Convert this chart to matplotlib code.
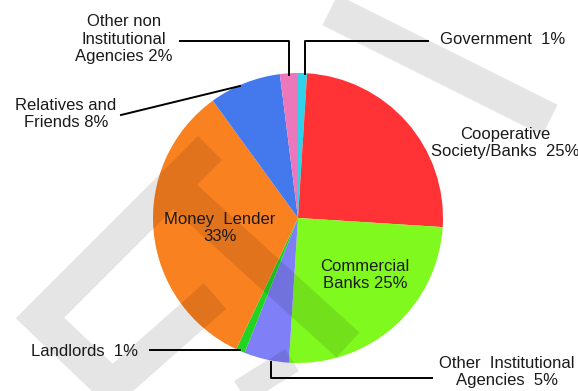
import matplotlib
matplotlib.use("Agg")
import matplotlib.pyplot as plt

plt.rcParams['font.family'] = ['Liberation Sans', 'DejaVu Sans']

W, H = 578, 391

sources = ["Government", "Cooperative Society/Banks", "Commercial Banks",
           "Other Institutional Agencies", "Landlords", "Money Lender",
           "Relatives and Friends", "Other non Institutional Agencies"]
shares = [1, 25, 25, 5, 1, 33, 8, 2]
colors = ['#2ed3ea', '#ff3236', '#80fa1e', '#7f7ff8', '#20d420',
          '#fa8120', '#4479ee', '#ec78bb']

fig = plt.figure(figsize=(W / 100, H / 100), dpi=100)
ax = fig.add_axes([0, 0, 1, 1])

cx, cy, r = 298, 218, 145
ax.pie(shares, colors=colors, startangle=90, counterclock=False,
       center=(cx, H - cy), radius=r, wedgeprops=dict(linewidth=0))
ax.set_xlim(0, W)
ax.set_ylim(0, H)
ax.set_aspect('equal')
ax.axis('off')


def py(y):
    return H - y


# faint watermark bands (one stroke each width, so overlaps don't double up)
def bands(groups, w):
    xs, ys = [], []
    for pts in groups:
        xs += [p[0] for p in pts] + [float('nan')]
        ys += [py(p[1]) for p in pts] + [float('nan')]
    ax.plot(xs, ys, color='black', alpha=0.1, lw=w * 0.72,
            solid_joinstyle='miter', solid_capstyle='butt', zorder=5)


bands([[(330, 10), (550, 120)],
       [(210, 148), (40, 318), (128, 402)],
       [(95, 402), (215, 296)],
       [(172, 185), (348, 345)]], 34)
bands([[(225, 402), (292, 360)]], 26)

tc = '#1a1a1a'
fs = 12
lk = dict(color='black', lw=1.4, zorder=6)

# labels
ax.text(440, py(40), "Government  1%", fontsize=fs, color=tc, va='center', zorder=7)
ax.plot([428, 305, 305], [py(41), py(41), py(74)], **lk)

ax.text(124, py(39), "Other non\nInstitutional\nAgencies 2%", fontsize=fs, color=tc,
        ha='center', va='center', linespacing=1.25, zorder=7)
ax.plot([180, 289, 289], [py(41), py(41), py(75)], **lk)

ax.text(66, py(114), "Relatives and\nFriends 8%", fontsize=fs, color=tc,
        ha='center', va='center', linespacing=1.1, zorder=7)
ax.plot([121, 240], [py(115), py(86)], **lk)

ax.text(505, py(143), "Cooperative\nSociety/Banks  25%", fontsize=fs, color=tc,
        ha='center', va='center', linespacing=1.15, zorder=7)

ax.text(220, py(228), "Money  Lender\n33%", fontsize=fs, color=tc,
        ha='center', va='center', linespacing=1.2, zorder=7)

ax.text(365, py(275), "Commercial\nBanks 25%", fontsize=fs, color=tc,
        ha='center', va='center', linespacing=1.2, zorder=7)

ax.text(138, py(351), "Landlords  1%", fontsize=fs, color=tc,
        ha='right', va='center', zorder=7)
ax.plot([150, 240], [py(350), py(350)], **lk)

ax.text(507, py(372), "Other  Institutional\nAgencies  5%", fontsize=fs, color=tc,
        ha='center', va='center', linespacing=1.15, zorder=7)
ax.plot([432, 271, 271], [py(378), py(378), py(362)], **lk)

fig.savefig("out.png", dpi=100)
